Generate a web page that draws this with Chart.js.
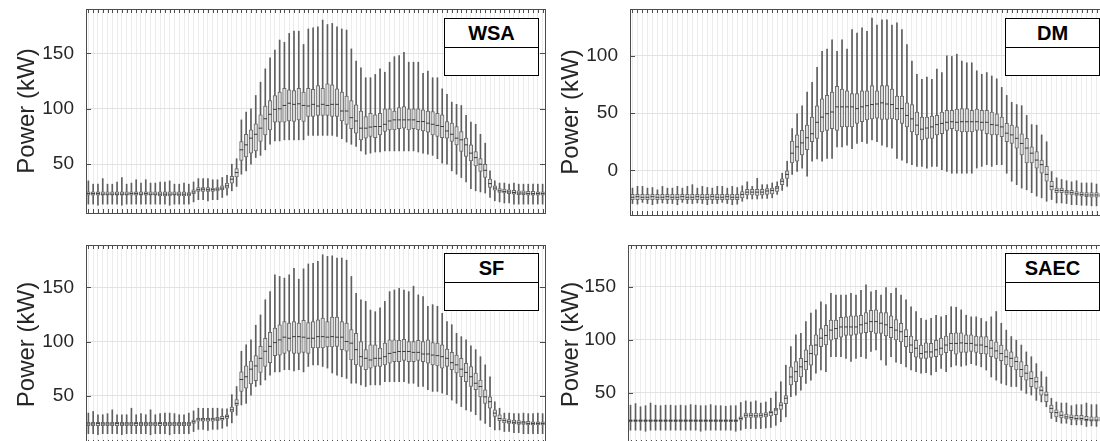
<!DOCTYPE html>
<html>
<head>
<meta charset="utf-8">
<script src="https://cdn.jsdelivr.net/npm/chart.js@4.4.0/dist/chart.umd.min.js"></script>
<style>
html, body { margin: 0; padding: 0; width: 1100px; height: 441px; overflow: hidden; background: #fff; }
.panel { position: absolute; }
.legend { position: absolute; box-sizing: border-box; width: 95px; height: 58px; border: 1px solid #000; background: #fff; font-family: Arial, "Liberation Sans", sans-serif; }
.legend .ttl { height: 28px; border-bottom: 1px solid #000; text-align: center; font-weight: bold; font-size: 20px; line-height: 29px; color: #000; }
</style>
</head>
<body>
<div class="panel" style="left:0;top:0"><canvas id="wsa" width="550" height="218"></canvas></div>
<div class="panel" style="left:544px;top:0"><canvas id="dm" width="570" height="220"></canvas></div>
<div class="panel" style="left:0;top:236px"><canvas id="sf" width="550" height="215"></canvas></div>
<div class="panel" style="left:544px;top:236px"><canvas id="saec" width="570" height="215"></canvas></div>

<div class="legend" style="left:444px;top:18px"><div class="ttl">WSA</div></div>
<div class="legend" style="left:1005px;top:18px"><div class="ttl">DM</div></div>
<div class="legend" style="left:444px;top:253px"><div class="ttl">SF</div></div>
<div class="legend" style="left:1005px;top:253px"><div class="ttl">SAEC</div></div>

<script>
// 96 quarter-hour slots
const slots = [1,2,3,4,5,6,7,8,9,10,11,12,13,14,15,16,17,18,19,20,21,22,23,24,
  25,26,27,28,29,30,31,32,33,34,35,36,37,38,39,40,41,42,43,44,45,46,47,48,
  49,50,51,52,53,54,55,56,57,58,59,60,61,62,63,64,65,66,67,68,69,70,71,72,
  73,74,75,76,77,78,79,80,81,82,83,84,85,86,87,88,89,90,91,92,93,94,95,96];

// WSA
const wsaLo = [14,14,13,14,14,14,14,13,14,14,14,14,
  14,14,14,14,14,13,14,14,14,14,16,18,
  18,17,18,18,20,22,26,30,41,44,50,56,
  58,63,68,71,71,72,72,72,72,72,76,76,
  76,76,76,76,75,73,70,68,66,62,59,60,
  61,61,62,62,62,62,62,62,62,61,60,59,
  58,55,51,50,44,41,38,34,28,26,25,24,
  20,17,16,15,15,14,14,14,14,14,14,14];
const wsaQ1 = [22,22,22,22,22,22,22,22,22,22,22,22,
  22,22,22,21.5,21.5,21.5,22,21.5,21.5,21.5,23.5,25.5,
  25.5,25.5,25.5,26,27,28.5,33,38.5,53.5,56.5,60,62,
  70.5,76.5,81,88,88,88,89,88.5,90,88.5,93,93,
  94,94,94,93,93,89,86,82,78,72,73.5,75,
  74,76.5,79.5,81,81,82,82.5,81,82,81,80,79,
  76.5,75,74,73.5,70.5,67.5,61.5,57,53,48.5,43.5,38,
  29,26.5,24.5,24,23.5,23,22.5,22.5,22,22,22,22];
const wsaMed = [23.5,23.5,23.5,23,23,23,23,23,23,23.5,23.5,23,
  23.5,23,23,23,23,23,23,23,23,23,25,27,
  27.5,27,27,27.5,28.5,30.5,36.5,42.5,63,67.5,73.5,77,
  82.5,91,95,99.5,100,103,105,104,104.5,103,102.5,104,
  102.5,104,103,104,104,98,98,92,89,82.5,82.5,83.5,
  84,84,86,89,90,90,90,90,90,88.5,88.5,87,
  86,85,84,80,77,73.5,72,67.5,60,56,50,44.5,
  32.5,28.5,26,25.5,25,24.5,24,24,23.5,23.5,23.5,23.5];
const wsaQ3 = [25,25,25,25,25,25,25,25,25,25,25,25,
  25,25,25,25,25,25,25,25,25,24.5,27,29,
  29,29,28.5,29,30.5,33,39,46,70.5,77,81,86.5,
  94.5,102.5,107.5,112,115,118.5,117,116.5,118.5,115,118.5,117.5,
  121,118.5,122.5,121.5,118,115,111.5,107.5,103.5,98,93,96,
  94.5,96,100,100,98,101,102,100,100,100,99,98,
  97.5,96,94.5,88.5,87,84,79.5,73.5,67.5,61.5,55,50,
  36.5,30.5,28,27.5,27,26.5,26,26,25.5,25.5,25,25];
const wsaHi = [35,32,32,37,32,32,34,38,32,33,36,33,
  36,33,33,34,34,35,32,32,33,32,34,37,
  37,37,36,36,38,40,50,55,90,97,100,112,
  124,136,146,153,162,160,168,170,170,158,172,173,
  174,180,176,177,174,172,171,154,143,137,128,128,
  131,136,133,142,147,148,151,142,142,142,132,134,
  128,128,118,113,106,104,103,94,88,86,77,69,
  44,35,33,33,32,33,32,32,32,32,32,32];

// DM
const dmLo = [-29,-29.5,-28,-29,-30,-29,-28.5,-29,-29,-30,-28,-29,
  -29,-28.5,-29,-30,-29,-29,-28,-29,-30,-29.5,-27,-25,
  -25,-25,-24.5,-24.5,-24,-21,-17.5,-14,-3.5,-1,2,-5,
  8,10,8,10.5,10.5,20.5,20.5,22,19,23.5,25,23.5,
  26.5,25,22,20.5,19.5,10.5,9,6.5,5,3.5,3.5,2,
  3.5,3.5,0.5,-1,-2.5,-2.5,-2.5,-2.5,-2.5,2,3.5,5,
  3.5,5,5,-2.5,-9.5,-12.5,-15.5,-17,-19.5,-22.5,-24,-27,
  -25.5,-28.5,-28.5,-29,-30,-30,-30.5,-30.5,-31,-31,-31,-31];
const dmQ1 = [-25.5,-25.5,-25.5,-25.5,-25.5,-25.5,-25.5,-25.5,-25.5,-25.5,-25.5,-25.5,
  -25.5,-25.5,-25.5,-25.5,-25.5,-25.5,-25.5,-25.5,-25.5,-25.5,-24,-21.5,
  -21.5,-22,-21.5,-21,-20.5,-18.5,-12.5,-7,6.5,8,13.5,18,
  25,28,33.5,35,36.5,35,38,38,38,41,42.5,44,
  45,45.5,44.5,44.5,45,44,41,38,33.5,31,26.5,28,
  28,31,32,35,36.5,34.5,33.5,33.5,33.5,35,35,32,
  31,31,29.5,25,23.5,19.5,13.5,6.5,6.5,2,-2.5,-9.5,
  -17,-19.5,-19.5,-21,-21.5,-22,-22.5,-23,-23.5,-23.5,-23.5,-23.5];
const dmMed = [-23.5,-23,-23.5,-23.5,-23,-23.5,-23.5,-23,-23.5,-23.5,-23,-23.5,
  -23.5,-23,-23.5,-23.5,-23,-23.5,-23.5,-23,-23.5,-23.5,-21,-19,
  -19,-19,-19,-18,-17.5,-15.5,-9.5,-3.5,15,20.5,24,28.5,
  32,42,46.5,49.5,51,55.5,55.5,55.5,55.5,54,55.5,56.5,
  57.5,58,59,58,57.5,54,54,48,45,39.5,36,37,
  38,40,41,42,42.5,42,42.5,42.5,42.5,42.5,42,42,
  40,39.5,38,32.5,31,28,23.5,19.5,15,9,5,-3.5,
  -14,-17.5,-17.5,-19,-19.5,-20.5,-21,-21.5,-21.5,-21.5,-22,-22];
const dmQ3 = [-21,-21,-21,-21,-21,-21,-21,-21,-21,-21,-21,-21,
  -21,-21,-21,-21,-21,-21,-21,-21,-21,-21,-18.5,-16.5,
  -16.5,-16.5,-16.5,-16,-15.5,-14,-7.5,0,25.5,31,35,39.5,
  46.5,56.5,62.5,65.5,68.5,73.5,71,69.5,67,67,69.5,69.5,
  74,69.5,74,74,71,65,65,59,57.5,51,46.5,46.5,
  47.5,48,51,52.5,52.5,53.5,54,54,52.5,53.5,52.5,52.5,
  51,49.5,46.5,41,39.5,38,32,28,20.5,16.5,9,3.5,
  -9.5,-15.5,-15.5,-17.5,-17.5,-18.5,-19,-19.5,-19.5,-19.5,-20,-20];
const dmHi = [-15.5,-14,-14,-15.5,-15,-17,-14,-15.5,-15.5,-14,-15.5,-14,
  -12.5,-15.5,-14,-15,-15.5,-14,-14,-15.5,-14,-15,-13.5,-10,
  -14,-7,-12.5,-12.5,-11,-10,-2.5,8,36.5,49.5,56.5,68.5,
  77,90,104,106,114,104,114,106,123,120,124.5,121.5,
  133,127,131.5,131.5,127,129,123,110,95.5,84,79.5,81.5,
  79.5,88.5,85.5,100,99.5,101.5,95.5,94,94,87,84,85.5,
  82.5,80,72.5,65.5,59.5,57.5,56.5,48,40,39.5,31,25,
  -1,-6.5,-8,-9,-10,-9,-11,-11,-11,-12,-12,-12];

// SF
const sfLo = [15,15,14,15,15,15,15,14,15,15,15,15,
  15,14,15,15,15,14,15,15,15,15,17,19,
  19,18,19,19,20,22,25,32,41.5,43,50.5,58.5,
  60,64.5,69,72,72,74,74,73,74,72,77,78.5,
  78.5,77,75.5,71,69,67.5,66,61.5,61.5,60,58.5,60,
  60,60,63,63,63,63,63,61.5,61.5,58.5,58.5,55.5,
  54,54,52.5,51,46,43,40,37,35.5,32.5,27.5,24.5,
  21.5,18.5,18.5,17,17,16,16,15,15,15,15,15];
const sfQ1 = [22.5,22.5,22.5,22.5,22.5,22.5,22.5,22.5,22.5,22.5,22.5,22.5,
  22.5,22.5,22.5,22.5,22.5,22.5,22.5,22.5,22.5,22.5,24.5,26.5,
  26.5,26.5,26.5,27,27.5,29,35,41,54,57,61,64,
  71.5,77,80.5,87,87.5,89,91,89,89,90,89,94,
  94,94,95,95,95.5,92.5,91,83,78.5,77,74,75.5,
  77,77,78.5,80,81.5,81.5,82.5,81.5,81.5,82.5,81.5,80,
  78.5,77.5,75.5,77,74,71,67.5,63,58.5,55.5,49,43,
  38.5,31,27,25,24.5,24,23.5,23.5,23,23,23,23];
const sfMed = [24,24,24.5,24,24,24,24.5,24,24,24,24.5,24,
  24,24,24,24.5,24,24,24,24,24,24,26,28.5,
  28.5,28.5,28.5,28.5,29,31,37,43,65,67.5,74.5,77.5,
  84.5,91,95.5,99,101.5,104,103,104.5,104.5,104,103,103,
  104.5,104.5,104,104.5,104,104,100,98.5,92.5,86,84.5,83,
  84.5,84.5,86,89,90,90.8,90.8,90.8,90,90,88.5,88.5,
  87.5,87,86,84.5,80.5,78.5,74.5,71.5,67.5,61.5,58.5,49,
  44.5,34,29,27,26,25.5,25,25,24.5,24.5,24.5,24.5];
const sfQ3 = [25.5,25.5,25.5,25.5,25.5,25.5,25.5,25.5,25.5,25.5,25.5,25.5,
  25.5,25.5,25.5,25.5,25.5,25.5,25.5,25.5,25.5,25.5,27.5,29.5,
  29.5,29.5,29.5,30,31,32.5,39.5,46.5,72,77.5,82,87,
  95.5,103,108.5,112.5,115.5,118.5,117,118.5,117,119.5,117.5,118.5,
  120,121.5,118.5,122.5,122.5,118.5,117,111,107.5,100,92.5,97,
  97,94,98.5,101.5,101.5,101,102,100,100,101,100,101.5,
  99,98.5,97,93,90,87.5,84.5,80,77,71,64.5,55.5,
  49,37,32.5,29,28,27.5,27,26.5,26.5,26,26,26];
const sfHi = [34,35.5,32.5,32.5,33.5,37,32.5,32.5,32.5,38.5,32.5,33.5,
  32.5,37,32.5,33.5,34,34,33.5,32.5,32.5,34,36,38.5,
  38.5,38.5,38.5,38.5,38,38,51,58.5,91,97,101.5,115,
  124.5,138.5,146,161.5,160,158.5,161.5,167.5,157.5,167,171.5,172,
  174,180,178.5,179,177,177,175,160,144.5,138.5,137,129,
  127.5,131,137,146,147.5,149,147.5,146,151,143,141.5,132.5,
  134,132.5,126,118.5,115.5,107.5,104.5,101.5,96,92.5,86,78.5,
  67.5,44.5,38.5,34,34,33.5,33.5,34,33.5,33.5,34,33.5];

// SAEC
const saecLo = [15,15,15,14,15,15,15,15,15,15,15,15,
  15,15,14,15,15,15,15,15,15,14,15,16.5,
  16.5,16.5,16.5,17,17.5,19.5,23,27.5,46.5,48,52.5,59,
  62,68.5,71.5,70,84,84,84,82.5,79.5,82.5,84,82.5,
  89,90.5,81,76,84,79,77.5,74.5,71.5,70,68.5,69,
  67,70,73,70,74.5,76,75,76,77.5,76,74.5,71.5,
  65,62,59,57.5,56,56,52.5,49.5,48,43,41.5,37,
  26,23,21.5,21.5,20,20,20,18.5,19,18.5,18.5,18.5];
const saecQ1 = [23,23,23,23,23,23,23,23,23,23,23,23,
  23,23,23,23,23,23,23,23,23,23,24.5,27,
  27,27,27,27.5,28.5,29.5,34.5,40,57.5,60.5,65,71.5,
  76,85.5,93.5,95,99.5,101,102.5,104,104,105,106,106.5,
  107.5,106,106,103.5,102,99.7,98,93.5,87.8,83.5,82.5,82.5,
  83.4,84,85.6,87.8,89.7,86.5,88,88,89,88,87,86.5,
  84,82.4,80.3,76.2,74.6,71.5,65.2,62,55.8,54.2,48,41.7,
  31.5,27.5,26.5,25.5,25,24.5,24.5,24,23.5,23.5,23.5,23.5];
const saecMed = [24,24,24,24,24,24,24,24,24,24,24,24,
  24,24,24,24,24,24,24,24,24,24,26,29,
  29,28.5,29,29.5,31.5,34,38.5,45,65,70,74.5,79.5,
  87,95,101.5,104,109,110.5,112,112,112,112,114,115.5,
  117,117,115.5,114,111.5,109,107.5,103,95,92,87,88.5,
  88.5,90.5,92,95,96.5,96.5,97,96.5,96.5,95,95,93.5,
  92,89.5,87,84,82.5,79.5,72,68.5,63.5,60.5,52.5,48,
  35.5,31.5,29,27.5,27,26,26,25,24.5,24.5,24.5,24.5];
const saecQ3 = [25,25,25,25,25,25,25,25,25,25,25,25,
  25,25,25,25,25,25,25,25,25,25,27.5,31,
  31,31,31,31.5,33,35.5,41,47.5,74.5,79.5,82.5,90.5,
  95,104.5,110.5,113.5,118.5,118.5,121,121.5,122.5,122.5,123,125.5,
  127.5,128,125.5,125.5,122.5,119,115.5,109.5,103.5,99.5,95,97,
  96.5,99.5,101.5,103.5,106,106.5,106.5,104.5,104.5,103.5,103,103,
  99.5,98,95,90.5,88.5,84,79.5,76,70,65,56,51,
  38.5,34,32.5,30,29.5,29,29,28,27.5,27.5,27.5,27.5];
const saecHi = [38.5,40,37,38,40.5,38.5,38,38.5,38.5,38,38.5,38,
  39,38.5,38,38,39,38,38,37.5,38,38,41,42.5,
  41.5,42.5,40.5,41.5,45,51,60.5,76,93.5,104.5,106,117,
  125,128,135.5,133,143.5,142,142,142,143.5,142,146.5,151.5,
  145,146.5,142,149,143.5,148.5,142,137.5,131,126.5,120,118.5,
  120,123,121.5,123,131,130.5,128,123,121.5,121.5,120,117,
  121.5,126.5,115.5,109,103,99.5,95,88.5,84,77.5,70,65,
  45,41.5,40.5,40.5,38,39,39,40.5,39,39,39,39];

const wsaTicks = [50, 100, 150];
const dmTicks = [0, 50, 100];
const sfTicks = [50, 100, 150];
const saecTicks = [50, 100, 150];

const FONT = 'Arial, "Liberation Sans", Helvetica, sans-serif';

// axes box with inward ticks, drawn after the boxes
const frame = {
    id: 'frame',
    afterDatasetsDraw(chart) {
        const { ctx, chartArea: a, scales: { x, y } } = chart;
        ctx.save();
        ctx.strokeStyle = '#4d4d4d';
        ctx.lineWidth = 1;
        ctx.beginPath();
        slots.forEach((s, i) => {
            const px = Math.round(x.getPixelForValue(i)) + 0.5;
            ctx.moveTo(px, a.top); ctx.lineTo(px, a.top + 4);
            ctx.moveTo(px, a.bottom); ctx.lineTo(px, a.bottom - 4);
        });
        y.ticks.forEach(t => {
            const py = Math.round(y.getPixelForValue(t.value)) + 0.5;
            ctx.moveTo(a.left, py); ctx.lineTo(a.left + 5, py);
            ctx.moveTo(a.right, py); ctx.lineTo(a.right - 5, py);
        });
        ctx.stroke();
        ctx.strokeRect(Math.round(a.left) + 0.5, Math.round(a.top) + 0.5,
            Math.round(a.right - a.left), Math.round(a.bottom - a.top));
        ctx.restore();
    }
};

function boxChart(id, lo, q1, med, q3, hi, yMin, yMax, yTicks, pad, yWidth) {
    new Chart(document.getElementById(id), {
        type: 'bar',
        data: {
            labels: slots,
            datasets: [
                {
                    type: 'line',
                    data: med,
                    showLine: false,
                    pointStyle: 'line',
                    pointRadius: 1.8,
                    pointBorderWidth: 1,
                    borderColor: '#3a3a3a',
                    order: 1
                },
                {
                    data: q1.map((v, i) => [v, q3[i]]),
                    backgroundColor: '#dadada',
                    borderColor: '#6a6a6a',
                    borderWidth: 1,
                    borderSkipped: false,
                    barThickness: 3.6,
                    grouped: false,
                    order: 2
                },
                {
                    data: lo.map((v, i) => [v, hi[i]]),
                    backgroundColor: '#5e5e5e',
                    barThickness: 1,
                    grouped: false,
                    order: 3
                }
            ]
        },
        options: {
            responsive: false,
            animation: false,
            devicePixelRatio: 1,
            layout: { padding: pad },
            plugins: { legend: { display: false }, tooltip: { enabled: false } },
            scales: {
                x: {
                    grid: { offset: false, color: '#ececec', drawTicks: false },
                    border: { display: false },
                    ticks: { display: false },
                    afterFit: s => { s.height = 0; s.paddingLeft = 0; s.paddingRight = 0; }
                },
                y: {
                    min: yMin,
                    max: yMax,
                    afterBuildTicks: s => { s.ticks = yTicks.map(v => ({ value: v })); },
                    grid: { color: '#e2e2e2', drawTicks: false },
                    border: { display: false },
                    ticks: { padding: 12, color: '#262626', font: { family: FONT, size: 19 } },
                    title: {
                        display: true,
                        text: 'Power (kW)',
                        color: '#262626',
                        font: { family: FONT, size: 24 },
                        padding: { top: 13, bottom: 0 }
                    },
                    afterFit: s => { s.width = yWidth; s.paddingTop = 0; s.paddingBottom = 0; }
                }
            }
        },
        plugins: [frame]
    });
}

boxChart('wsa', wsaLo, wsaQ1, wsaMed, wsaQ3, wsaHi, 6, 190, wsaTicks, { top: 9, right: 2, bottom: 2, left: 0 }, 86);
boxChart('dm', dmLo, dmQ1, dmMed, dmQ3, dmHi, -39, 141, dmTicks, { top: 9, right: 4, bottom: 3, left: 0 }, 86);
boxChart('sf', sfLo, sfQ1, sfMed, sfQ3, sfHi, 5.5, 189, sfTicks, { top: 9, right: 2, bottom: 7, left: 0 }, 86);
boxChart('saec', saecLo, saecQ1, saecMed, saecQ3, saecHi, 2, 189, saecTicks, { top: 9, right: 4, bottom: 7, left: 0 }, 84);
</script>
</body>
</html>
